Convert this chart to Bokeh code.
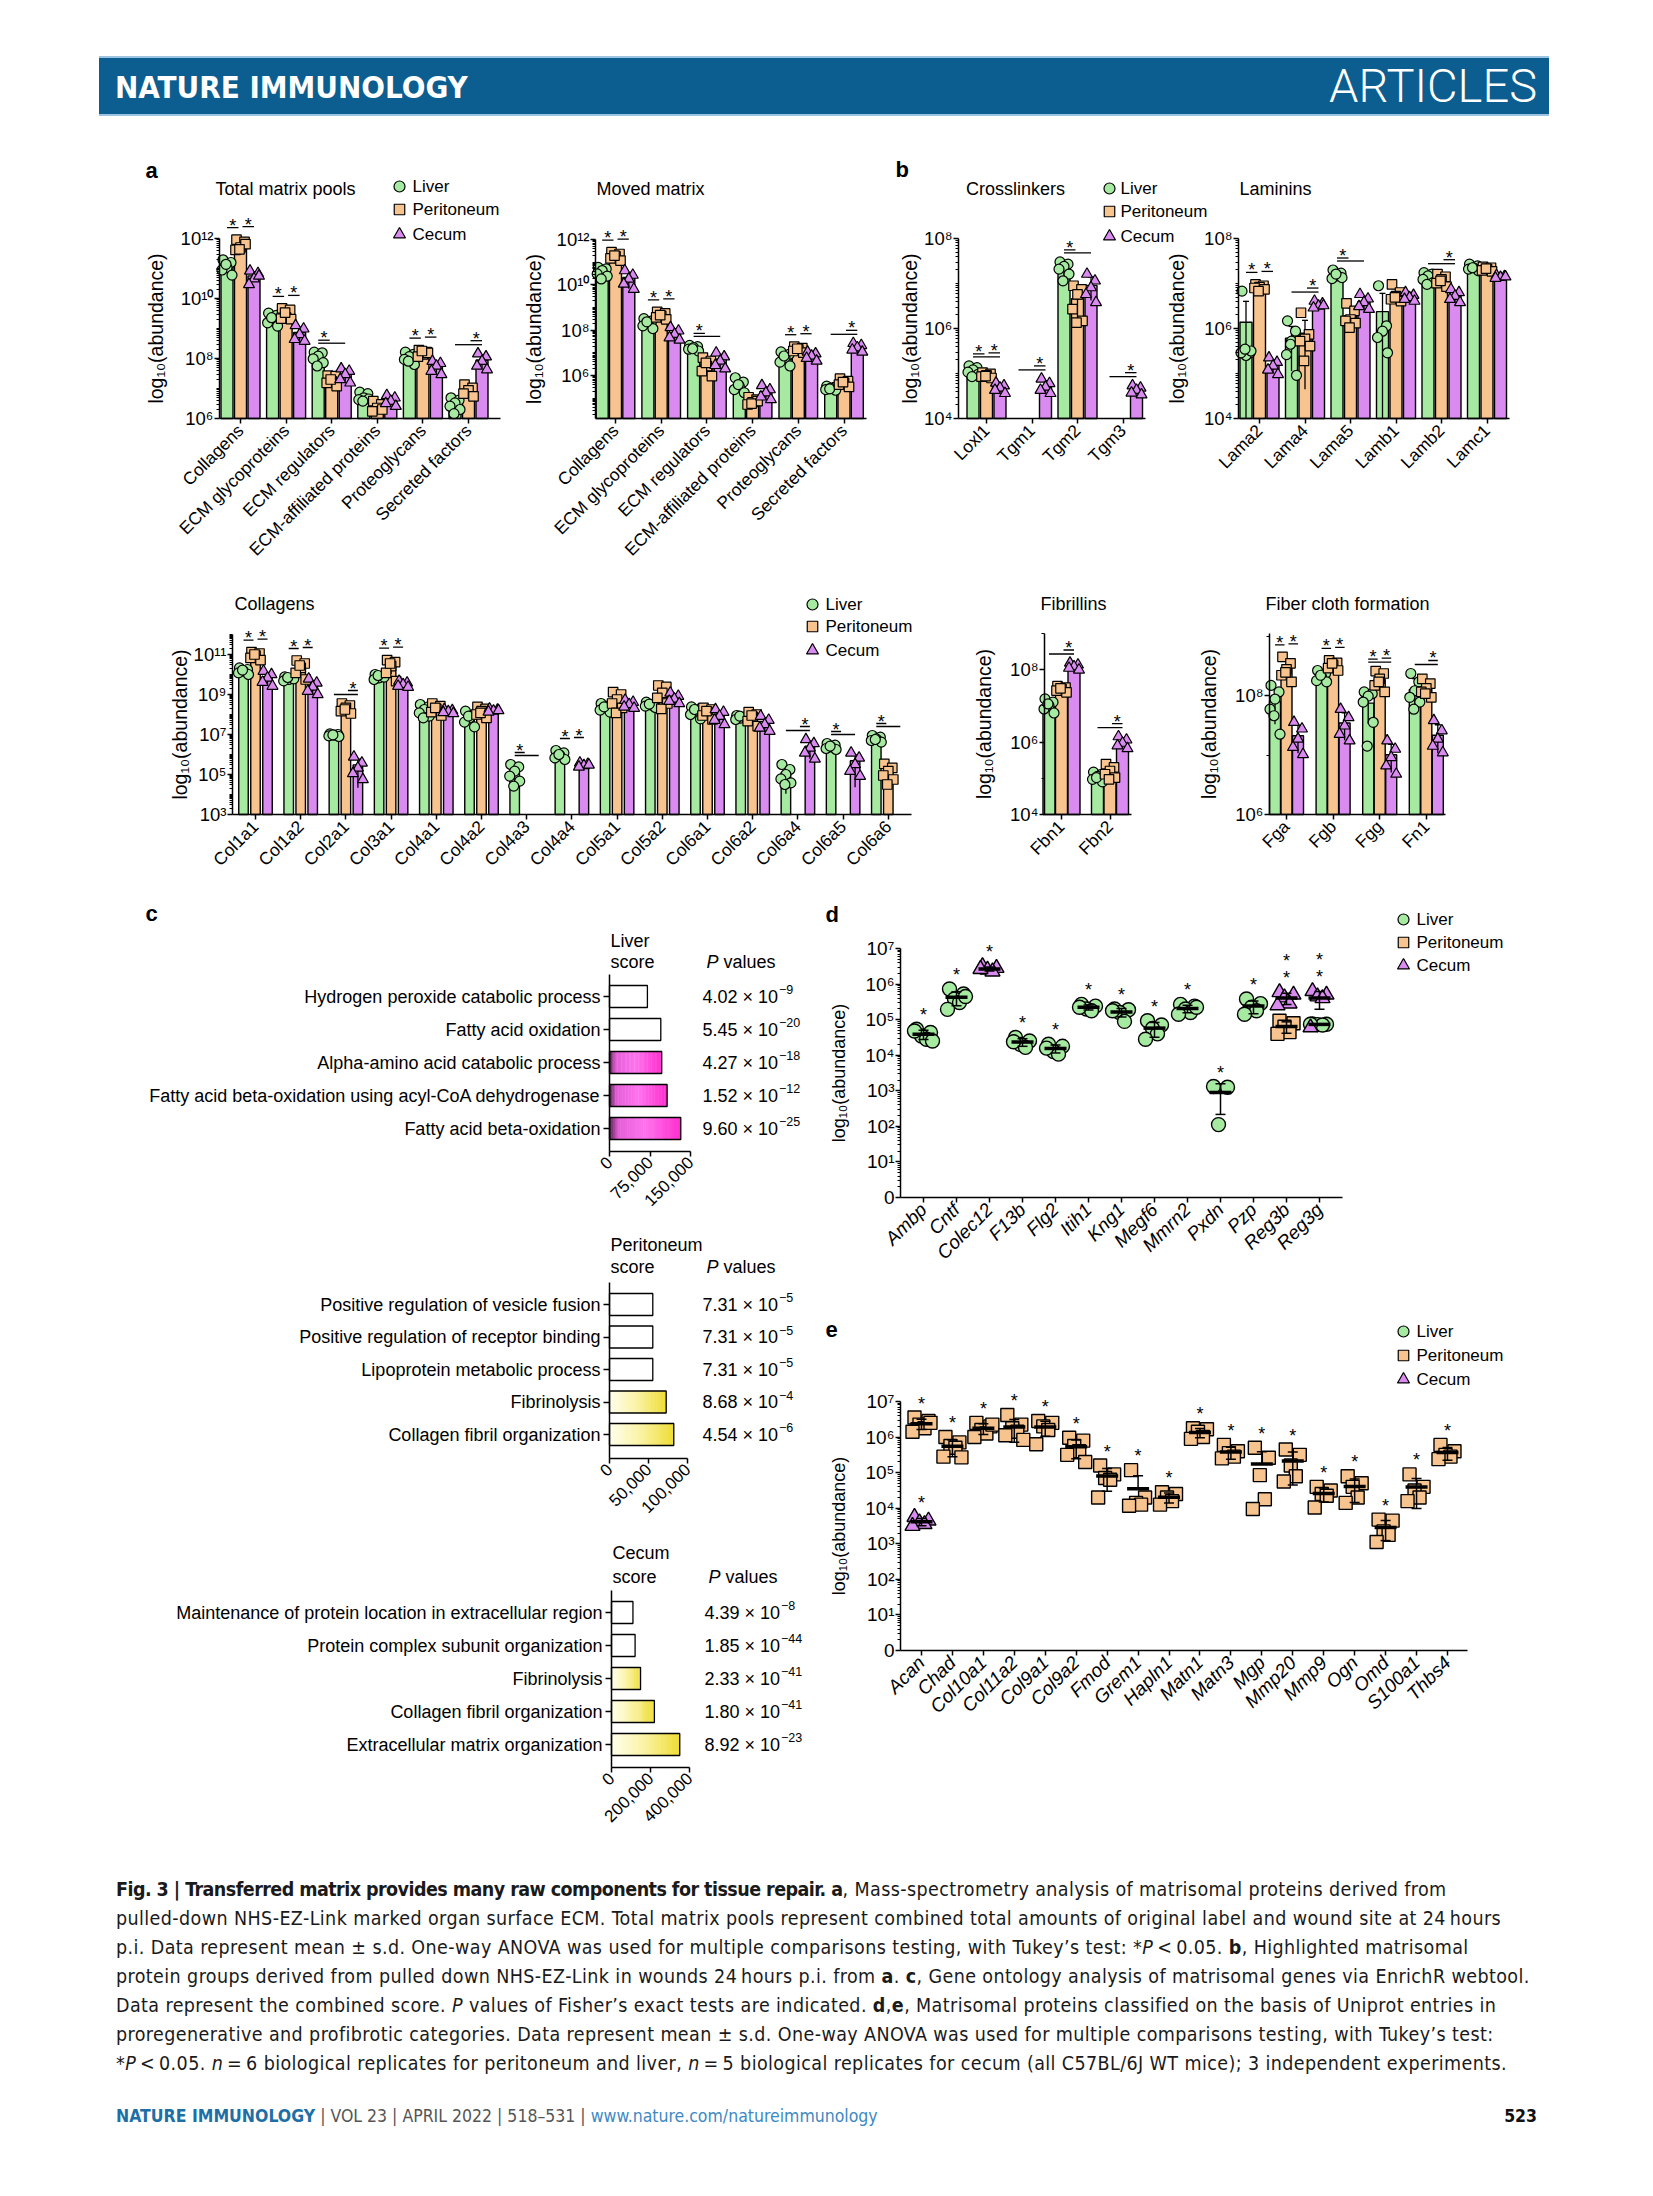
import math
from bokeh.plotting import figure
from bokeh.models import (Range1d, LogScale, LinearAxis, LogAxis, FixedTicker,
                          CustomJSTickFormatter, NumeralTickFormatter, Div, Spacer)
from bokeh.layouts import row, column
from bokeh.core.properties import value
from bokeh.embed import file_html
from bokeh.resources import INLINE

# ===================== DATA (log10 abundance of replicates) =====================
GROUPS = ["Liver", "Peritoneum", "Cecum"]

TOTAL_CATS = ["Collagens", "ECM glycoproteins", "ECM regulators",
              "ECM-affiliated proteins", "Proteoglycans", "Secreted factors"]
TOTAL_LIVER = [[11.29, 11.20, 11.03, 10.95, 10.78, 11.14], [9.51, 9.44, 9.33, 9.19, 9.08, 9.36],
               [8.21, 8.19, 8.08, 7.99, 7.86, 7.75], [6.88, 6.83, 6.69, 6.63, 6.65, 6.58],
               [8.21, 8.14, 8.06, 7.97, 7.80, 7.91], [6.69, 6.61, 6.52, 6.41, 6.30, 6.16]]
TOTAL_PERI = [[11.96, 11.89, 11.70, 11.62, 11.81, 11.64], [9.67, 9.62, 9.36, 9.33, 9.31, 9.53],
              [7.43, 7.41, 7.24, 7.19, 7.08, 7.30], [6.58, 6.47, 6.35, 6.24, 6.30],
              [8.28, 8.21, 8.14, 8.06, 8.19, 8.25], [7.13, 7.02, 6.94, 6.83, 6.74]]
TOTAL_CECUM = [[10.92, 10.84, 10.66, 10.47, 10.75], [9.10, 8.99, 8.80, 8.64, 8.58],
               [7.66, 7.58, 7.47, 7.30, 7.19], [6.77, 6.69, 6.58, 6.50, 6.41],
               [7.91, 7.84, 7.75, 7.58, 7.47], [8.16, 8.06, 7.91, 7.75, 7.63]]
TOTAL_SIG = [(0, "LP", 1), (0, "PC", 1), (1, "LP", 1), (1, "PC", 1), (2, "LP", 1), (2, "LC", 0),
             (4, "LP", 1), (4, "PC", 1), (5, "LC", 0), (5, "PC", 1)]

MOVED_LIVER = [[10.77, 10.70, 10.63, 10.48, 10.38, 10.26], [8.51, 8.41, 8.31, 8.19, 8.07, 8.37],
               [7.33, 7.27, 7.23, 7.16, 7.08, 7.18], [5.90, 5.71, 5.53, 5.38, 5.24, 5.60],
               [7.04, 6.93, 6.79, 6.59, 6.42, 6.86], [5.53, 5.49, 5.44, 5.38, 5.35, 5.41]]
MOVED_PERI = [[11.44, 11.36, 11.26, 11.17, 11.07, 11.29], [8.81, 8.74, 8.63, 8.56, 8.48, 8.66],
              [6.79, 6.64, 6.42, 6.19, 5.97, 6.56], [5.04, 4.94, 4.82, 4.72, 4.87, 4.76],
              [7.27, 7.21, 7.15, 7.08, 7.01, 7.18], [5.86, 5.75, 5.68, 5.60, 5.50, 5.71]]
MOVED_CECUM = [[10.63, 10.43, 10.26, 10.04, 9.81], [8.12, 7.97, 7.82, 7.67, 7.57],
               [7.00, 6.83, 6.64, 6.45, 6.30], [5.56, 5.38, 5.24, 5.06, 4.94],
               [7.04, 6.96, 6.86, 6.76, 6.64], [7.42, 7.33, 7.23, 7.13, 7.04]]
MOVED_SIG = [(0, "LP", 1), (0, "PC", 1), (1, "LP", 1), (1, "PC", 1), (2, "LP", 1), (2, "LC", 0),
             (4, "LP", 1), (4, "PC", 1), (5, "LC", 0), (5, "PC", 1)]

CROSS_CATS = ["Loxl1", "Tgm1", "Tgm2", "Tgm3"]
CROSS_LIVER = [[5.17, 5.13, 5.08, 5.03, 4.98, 4.93], [], [7.48, 7.43, 7.38, 7.32, 7.21, 7.06], []]
CROSS_PERI = [[5.02, 4.99, 4.96, 4.93, 4.90, 4.94], [], [6.95, 6.87, 6.76, 6.43, 6.17, 6.13], []]
CROSS_CECUM = [[4.79, 4.73, 4.68, 4.63, 4.56], [4.88, 4.78, 4.70, 4.63, 4.56],
               [7.21, 7.06, 6.91, 6.76, 6.58], [4.73, 4.68, 4.63, 4.57, 4.53]]
CROSS_SIG = [(0, "LP", 1), (0, "PC", 1), (0, "LC", 0), (1, "LC", 0), (1, "PC", 1),
             (2, "LP", 1), (2, "LC", 0), (3, "LC", 0), (3, "PC", 1)]

LAM_CATS = ["Lama2", "Lama4", "Lama5", "Lamb1", "Lamb2", "Lamc1"]
LAM_LIVER = [[6.83, 5.46, 5.40, 5.46, 5.50, 5.54], [6.17, 5.94, 5.72, 5.42, 4.96, 5.65],
             [7.30, 7.23, 7.17, 7.11, 7.13, 7.21], [6.95, 6.06, 5.94, 5.80, 5.46],
             [7.24, 7.21, 7.17, 7.09, 7.02, 6.98], [7.43, 7.39, 7.35, 7.32, 7.28, 7.35]]
LAM_PERI = [[6.98, 6.95, 6.92, 6.90, 6.87, 6.83], [6.35, 5.87, 5.77, 5.72, 5.61, 5.28],
            [6.56, 6.39, 6.20, 6.17, 6.12, 6.02], [6.98, 6.80, 6.72, 6.65, 6.61, 6.69],
            [7.21, 7.15, 7.09, 7.01, 6.93, 7.06], [7.37, 7.35, 7.32, 7.29, 7.27, 7.33]]
LAM_CECUM = [[5.35, 5.25, 5.17, 5.08, 4.98], [6.61, 6.55, 6.50, 6.46, 6.51],
             [6.76, 6.66, 6.58, 6.49, 6.43], [6.80, 6.74, 6.69, 6.65, 6.61],
             [6.87, 6.80, 6.72, 6.65, 6.58], [7.18, 7.16, 7.14, 7.12, 7.15]]
LAM_SIG = [(0, "LP", 1), (0, "PC", 1), (1, "LC", 0), (1, "PC", 1), (2, "LP", 1), (2, "LC", 0),
           (4, "LC", 0), (4, "PC", 1)]

COLL_CATS = ["Col1a1", "Col1a2", "Col2a1", "Col3a1", "Col4a1", "Col4a2", "Col4a3", "Col4a4",
             "Col5a1", "Col5a2", "Col6a1", "Col6a2", "Col6a4", "Col6a5", "Col6a6"]
COLL_LIVER = [[10.33, 10.25, 10.17, 10.08, 10.00, 10.22], [9.88, 9.82, 9.75, 9.68, 9.78, 9.85],
              [7.03, 7.00, 6.97, 6.93, 6.90, 6.98], [10.00, 9.92, 9.83, 9.75, 9.87, 9.95],
              [8.50, 8.38, 8.25, 8.08, 7.92, 7.83], [8.17, 8.00, 7.83, 7.62, 7.38, 7.92],
              [5.50, 5.38, 5.17, 4.92, 4.67, 4.42], [6.20, 6.08, 5.95, 5.83, 5.75, 6.00],
              [8.55, 8.45, 8.33, 8.22, 8.12, 8.38], [8.62, 8.55, 8.48, 8.42, 8.35, 8.52],
              [8.38, 8.28, 8.17, 8.00, 7.78, 8.25], [7.95, 7.88, 7.82, 7.75, 7.85, 7.92],
              [5.50, 5.25, 5.00, 4.78, 4.58, 4.50], [6.55, 6.47, 6.38, 6.30, 6.25, 6.42],
              [6.95, 6.87, 6.78, 6.70, 6.62, 6.75]]
COLL_PERI = [[11.12, 11.05, 10.95, 10.83, 10.72, 11.00], [10.70, 10.55, 10.33, 10.08, 9.75, 10.45],
             [8.55, 8.45, 8.33, 8.17, 8.05, 8.25], [10.72, 10.62, 10.42, 10.08, 9.67, 10.55],
             [8.55, 8.42, 8.28, 8.12, 7.95, 8.33], [8.38, 8.28, 8.17, 8.00, 7.83, 8.08],
             [], [],
             [9.12, 9.00, 8.75, 8.55, 8.33, 8.08], [9.45, 9.38, 9.08, 8.83, 8.55, 8.28],
             [8.33, 8.25, 8.12, 7.95, 7.75, 8.17], [8.12, 8.00, 7.88, 7.67, 7.42, 7.95],
             [], [],
             [5.53, 5.33, 5.17, 4.95, 4.75, 4.50]]
COLL_CECUM = [[10.17, 10.00, 9.83, 9.62, 9.42], [9.78, 9.58, 9.38, 9.17, 9.00],
              [5.88, 5.58, 5.33, 5.05, 4.75], [9.67, 9.58, 9.50, 9.42, 9.37],
              [8.25, 8.20, 8.15, 8.10, 8.05], [8.28, 8.23, 8.18, 8.13, 8.20],
              [], [5.58, 5.52, 5.45, 5.38, 5.48],
              [8.72, 8.62, 8.50, 8.38, 8.32], [9.08, 8.92, 8.78, 8.67, 8.55],
              [8.25, 8.12, 7.92, 7.72, 7.50], [7.92, 7.72, 7.50, 7.33, 7.17],
              [6.75, 6.55, 6.33, 6.08, 5.78], [6.08, 5.83, 5.50, 5.17, 4.92],
              []]
COLL_SIG = [(0, "LP", 1), (0, "PC", 1), (1, "LP", 1), (1, "PC", 1), (2, "LC", 0), (2, "PC", 1),
            (3, "LP", 1), (3, "PC", 1), (6, "LP", 1), (6, "LC", 0), (7, "LP", 1), (7, "PC", 1),
            (12, "LC", 0), (12, "PC", 1), (13, "LP", 1), (13, "LC", 0), (14, "LP", 1), (14, "LC", 0)]

FIB_CATS = ["Fbn1", "Fbn2"]
FIB_LIVER = [[7.19, 7.10, 7.00, 6.91, 6.80, 7.05], [5.17, 5.11, 5.05, 4.97, 4.90, 5.02]]
FIB_PERI = [[7.54, 7.50, 7.46, 7.42, 7.37, 7.48], [5.39, 5.30, 5.20, 5.11, 5.02, 4.97]]
FIB_CECUM = [[8.18, 8.13, 8.08, 8.04, 7.99], [6.15, 6.06, 5.97, 5.90, 5.82]]
FIB_SIG = [(0, "LC", 0), (0, "PC", 1), (1, "LC", 0), (1, "PC", 1)]

FIBER_CATS = ["Fga", "Fgb", "Fgg", "Fn1"]
FIBER_LIVER = [[8.17, 8.06, 7.94, 7.77, 7.35, 7.66], [8.42, 8.37, 8.31, 8.25, 8.23, 8.34],
               [8.06, 8.03, 7.99, 7.89, 7.55, 7.15], [8.37, 8.23, 8.08, 7.97, 7.89, 7.77]]
FIBER_PERI = [[8.65, 8.54, 8.44, 8.34, 8.23, 8.39], [8.59, 8.55, 8.51, 8.46, 8.42, 8.54],
              [8.41, 8.37, 8.28, 8.17, 8.06, 8.23], [8.28, 8.20, 8.12, 8.06, 7.97, 8.03]]
FIBER_CECUM = [[7.55, 7.44, 7.27, 7.13, 7.01], [7.77, 7.63, 7.49, 7.35, 7.24],
               [7.24, 7.10, 6.96, 6.82, 6.68], [7.58, 7.41, 7.27, 7.15, 7.04]]
FIBER_SIG = [(0, "LP", 1), (0, "PC", 1), (1, "LP", 1), (1, "PC", 1), (2, "LP", 1), (2, "PC", 1),
             (2, "LC", 0), (3, "LC", 0), (3, "PC", 1)]

LIVER_TERMS = ["Hydrogen peroxide catabolic process", "Fatty acid oxidation",
               "Alpha-amino acid catabolic process",
               "Fatty acid beta-oxidation using acyl-CoA dehydrogenase", "Fatty acid beta-oxidation"]
LIVER_SCORES = [70200, 95000, 96700, 106700, 132000]
LIVER_PVALS = [(4.02, -9), (5.45, -20), (4.27, -18), (1.52, -12), (9.60, -25)]
PERI_TERMS = ["Positive regulation of vesicle fusion", "Positive regulation of receptor binding",
              "Lipoprotein metabolic process", "Fibrinolysis", "Collagen fibril organization"]
PERI_SCORES = [55500, 55500, 55500, 72700, 82400]
PERI_PVALS = [(7.31, -5), (7.31, -5), (7.31, -5), (8.68, -4), (4.54, -6)]
CECUM_TERMS = ["Maintenance of protein location in extracellular region",
               "Protein complex subunit organization", "Fibrinolysis",
               "Collagen fibril organization", "Extracellular matrix organization"]
CECUM_SCORES = [110000, 121000, 149000, 220000, 350000]
CECUM_PVALS = [(4.39, -8), (1.85, -44), (2.33, -41), (1.80, -41), (8.92, -23)]

D_CATS = ["Ambp", "Cntf", "Colec12", "F13b", "Flg2", "Itih1", "Kng1", "Megf6", "Mmrn2",
          "Pxdn", "Pzp", "Reg3b", "Reg3g"]
D_LIVER = [[4.73, 4.64, 4.54, 4.45, 4.68, 4.40], [5.86, 5.72, 5.58, 5.48, 5.29, 5.65], [],
           [4.50, 4.40, 4.30, 4.22, 4.38], [4.31, 4.25, 4.10, 4.03, 4.20],
           [5.43, 5.38, 5.30, 5.25, 5.35], [5.30, 5.28, 5.20, 4.95, 5.25],
           [4.97, 4.85, 4.75, 4.60, 4.45], [5.43, 5.38, 5.30, 5.20, 5.15, 5.35],
           [3.12, 3.10, 2.05], [5.58, 5.45, 5.35, 5.25, 5.15], [],
           [4.88, 4.87, 4.86, 4.85, 4.87]]
D_PERI = [[], [], [], [], [], [], [], [], [], [], [], [4.97, 4.90, 4.80, 4.65, 4.60], []]
D_CECUM = [[], [], [6.50, 6.45, 6.40, 6.35, 6.42], [], [], [], [], [], [], [], [],
           [5.77, 5.70, 5.62, 5.45, 5.40], [5.80, 5.70, 5.65, 5.60, 4.78]]

E_CATS = ["Acan", "Chad", "Col10a1", "Col11a2", "Col9a1", "Col9a2", "Fmod", "Grem1", "Hapln1",
          "Matn1", "Matn3", "Mgp", "Mmp20", "Mmp9", "Ogn", "Omd", "S100a1", "Thbs4"]
E_LIVER = [[], [], [], [], [], [], [], [], [], [], [], [], [], [], [], [], [], []]
E_PERI = [[6.55, 6.45, 6.35, 6.25, 6.15, 6.40], [6.00, 5.85, 5.75, 5.70, 5.45, 5.43],
          [6.40, 6.30, 6.20, 6.10, 6.00, 6.35], [6.62, 6.35, 6.25, 6.15, 6.05, 5.92],
          [6.45, 6.40, 6.30, 6.20, 5.80], [5.98, 5.90, 5.75, 5.60, 5.50, 5.30],
          [5.20, 4.95, 4.85, 4.80, 4.30], [5.07, 4.30, 4.15, 4.10, 4.07],
          [4.45, 4.40, 4.30, 4.20, 4.10], [6.25, 6.22, 6.15, 6.00, 5.95],
          [5.78, 5.60, 5.55, 5.45, 5.40], [5.70, 5.42, 4.93, 4.25, 3.98],
          [5.65, 5.50, 5.20, 4.90, 4.75], [4.60, 4.50, 4.40, 4.35, 4.02],
          [4.90, 4.70, 4.60, 4.30, 4.15], [3.68, 3.65, 3.35, 3.25, 3.05],
          [4.95, 4.60, 4.50, 4.30, 4.20], [5.78, 5.60, 5.50, 5.45, 5.38]]
E_CECUM = [[3.75, 3.65, 3.60, 3.55, 3.50], [], [], [], [], [], [], [], [], [], [], [], [], [],
           [], [], [], []]

# ===================== STYLE =====================
FONT = "Liberation Sans"
COLORS = ["#a6eaa2", "#f7c38f", "#d98bef"]
MARKERS = ["circle", "square", "triangle"]
BAR_JITTER_PX = [-4, 4, 0, -5, 5, -1]
DOT_JITTER_PX = [-7, 7, -2, 3, -9, 9]
MAGENTA = [(0.0, (80, 35, 75)), (0.12, (228, 95, 215)), (0.5, (255, 115, 238)), (1.0, (255, 45, 205))]
YELLOW = [(0.0, (255, 255, 238)), (0.5, (250, 242, 160)), (1.0, (238, 220, 50))]

SUP_JS = """
const s = {"0":"\u2070","1":"\u00b9","2":"\u00b2","3":"\u00b3","4":"\u2074","5":"\u2075",
           "6":"\u2076","7":"\u2077","8":"\u2078","9":"\u2079","-":"\u207b"};
const e = Math.round(Math.log10(tick));
if (zero && e === 0) { return "0"; }
let out = "";
for (const c of String(e)) { out += s[c]; }
return "10" + out;
"""
CAT_JS = "const i = Math.round(tick) - start; return (i >= 0 && i < labels.length) ? labels[i] : '';"


class Panel:
    """A figure whose frame is the whole canvas; page-pixel anchors define the scales."""

    def __init__(self, box, xa, xb, ya, yb, ylog=True):
        self.l, self.t, self.r, self.b = box
        self.xa, self.ya = xa, ya
        self.kx = (xb[1] - xa[1]) / (xb[0] - xa[0])
        self.ky = (yb[1] - ya[1]) / (yb[0] - ya[0])
        self.ylog = ylog
        p = figure(width=self.r - self.l, height=self.b - self.t,
                   x_range=Range1d(self.X(self.l), self.X(self.r)),
                   y_range=Range1d(self.Y(self.b), self.Y(self.t)),
                   x_axis_type=None, y_axis_type=None, title=None,
                   toolbar_location=None, output_backend="svg")
        if ylog:
            p.y_scale = LogScale()
        p.min_border = 0
        p.min_border_left = 0
        p.min_border_right = 0
        p.min_border_top = 0
        p.min_border_bottom = 0
        p.outline_line_color = None
        p.background_fill_color = "white"
        p.border_fill_color = "white"
        self.p = p

    def X(self, px):
        return self.xa[1] + (px - self.xa[0]) * self.kx

    def L(self, px):
        return self.ya[1] + (px - self.ya[0]) * self.ky

    def Y(self, px):
        v = self.L(px)
        return 10.0 ** v if self.ylog else v

    def dx(self, dpx):
        return dpx * self.kx

    def up(self, dpx):
        return -dpx * self.ky


def style_axis(ax, size="16px", label_size="19.5px"):
    ax.axis_line_color = "black"
    ax.axis_line_width = 1.5
    ax.major_tick_line_color = "black"
    ax.major_tick_line_width = 1.5
    ax.minor_tick_line_color = "black"
    ax.minor_tick_line_width = 1
    ax.major_tick_in = 0
    ax.major_tick_out = 5
    ax.minor_tick_in = 0
    ax.minor_tick_out = 3
    ax.major_label_standoff = 3
    ax.major_label_text_font = FONT
    ax.major_label_text_font_size = size
    ax.major_label_text_color = "black"
    ax.axis_label_text_font = FONT
    ax.axis_label_text_font_size = label_size
    ax.axis_label_text_font_style = "normal"
    ax.axis_label_text_color = "black"


def log_yaxis(P, x_px, lo, hi, majors, standoff, zero=False, minors=None,
              size="18.5px", label_size="19.5px"):
    if minors is None:
        minors = []
        for e in range(math.floor(lo), math.ceil(hi) + 1):
            for k in range(1, 10):
                v = k * 10.0 ** e
                lv = math.log10(v)
                if lo - 1e-9 <= lv <= hi + 1e-9 and all(abs(lv - m) > 1e-9 for m in majors):
                    minors.append(v)
    ax = LogAxis(ticker=FixedTicker(ticks=[10.0 ** m for m in majors], minor_ticks=minors),
                 formatter=CustomJSTickFormatter(args=dict(zero=zero), code=SUP_JS),
                 bounds=(10.0 ** lo, 10.0 ** hi), fixed_location=P.X(x_px))
    style_axis(ax, size, label_size)
    ax.major_label_standoff = 1
    ax.axis_label = "log₁₀(abundance)"
    ax.axis_label_standoff = standoff
    P.p.add_layout(ax, "left")


def cat_axis(P, y_px, names, start, x0_px, x1_px, italic=False, size="17.5px"):
    ax = LinearAxis(ticker=FixedTicker(ticks=[start + i for i in range(len(names))], minor_ticks=[]),
                    formatter=CustomJSTickFormatter(args=dict(labels=names, start=start), code=CAT_JS),
                    bounds=(P.X(x0_px), P.X(x1_px)), fixed_location=P.Y(y_px))
    style_axis(ax, size)
    ax.major_label_orientation = math.pi / 4
    ax.major_label_standoff = 4
    ax.major_label_text_font_style = "italic" if italic else "normal"
    P.p.add_layout(ax, "below")


def txt(P, x_px, y_px, s, size="16px", align="left", baseline="middle", style="normal"):
    P.p.text(x=[P.X(x_px)], y=[P.Y(y_px)], text=[s], text_font=value(FONT),
             text_font_size=size, text_align=align, text_baseline=baseline,
             text_font_style=style, text_color="black")


def legend(P, x_px, ys_px, tx_px, sizes=(11, 10.5, 12), size="17px"):
    for g in range(3):
        P.p.scatter([P.X(x_px)], [P.Y(ys_px[g])], marker=MARKERS[g], size=sizes[g],
                    fill_color=COLORS[g], line_color="black", line_width=1.2)
        txt(P, tx_px, ys_px[g], GROUPS[g], size=size)


def stats(vals):
    lin = [10.0 ** v for v in vals]
    n = len(lin)
    m = sum(lin) / n
    sd = math.sqrt(sum((x - m) ** 2 for x in lin) / (n - 1)) if n > 1 else 0.0
    return m, sd


def bar_panel(P, groups, sig, base_log, bar_w_px, off_px, cat0=0, msizes=(10, 9.5, 11)):
    p = P.p
    bw = P.dx(bar_w_px)
    offs = [-P.dx(off_px), 0.0, P.dx(off_px)]
    jit = [P.dx(j) for j in BAR_JITTER_PX]
    bottom = 10.0 ** base_log
    pts = []
    for g in range(3):
        xs, tops, ex, ey0, ey1, cx0, cx1, cy = [], [], [], [], [], [], [], []
        gx, gy = [], []
        for i, vals in enumerate(groups[g]):
            if not vals:
                continue
            xc = cat0 + i + offs[g]
            m, sd = stats(vals)
            xs.append(xc)
            tops.append(m)
            ex.append(xc)
            ey0.append(max(m - sd, bottom))
            ey1.append(m + sd)
            cx0.append(xc - P.dx(3))
            cx1.append(xc + P.dx(3))
            cy.append(m + sd)
            for k, v in enumerate(vals):
                gx.append(xc + jit[k % len(jit)])
                gy.append(10.0 ** v)
        p.vbar(x=xs, top=tops, bottom=bottom, width=bw, fill_color=COLORS[g],
               line_color="black", line_width=1.4)
        p.segment(x0=ex, y0=ey0, x1=ex, y1=ey1, line_color="black", line_width=1.3)
        p.segment(x0=cx0, y0=cy, x1=cx1, y1=cy, line_color="black", line_width=1.3)
        pts.append((g, gx, gy))
    for g, gx, gy in pts:
        p.scatter(gx, gy, marker=MARKERS[g], size=msizes[g], fill_color=COLORS[g],
                  line_color="black", line_width=1.2)
    lx0, lx1, ly, sx, sy = [], [], [], [], []
    pair = {"LP": (0, 1), "PC": (1, 2), "LC": (0, 2)}
    lift = {"LP": 3, "PC": 4, "LC": 0}
    for i, kind, star in sig:
        allv = [v for g in range(3) for v in groups[g][i]]
        yl = max(allv) + P.up(9) + P.up(lift[kind])
        ga, gb = pair[kind]
        xa = cat0 + i + offs[ga]
        xb = cat0 + i + offs[gb]
        if kind == "LP":
            xb -= P.dx(2)
        if kind == "PC":
            xa += P.dx(2)
        lx0.append(xa)
        lx1.append(xb)
        ly.append(10.0 ** yl)
        if star:
            sx.append((xa + xb) / 2)
            sy.append(10.0 ** (yl + P.up(2)))
    p.segment(x0=lx0, y0=ly, x1=lx1, y1=ly, line_color="black", line_width=1.3)
    p.text(x=sx, y=sy, text=["*"] * len(sx), text_font=value(FONT), text_font_size="18px",
           text_align="center", text_baseline="alphabetic", text_color="black")


def dot_panel(P, groups, msizes=(14, 13, 15)):
    p = P.p
    jit = [P.dx(j) for j in DOT_JITTER_PX]
    ncat = len(groups[0])
    for g in range(3):
        gx, gy = [], []
        for i, vals in enumerate(groups[g]):
            for k, v in enumerate(vals):
                gx.append(i + jit[k % len(jit)])
                gy.append(10.0 ** v)
        if gx:
            p.scatter(gx, gy, marker=MARKERS[g], size=msizes[g], fill_color=COLORS[g],
                      line_color="black", line_width=1.4)
    mx0, mx1, my, ex, ey0, ey1, cx0, cx1, cy = [], [], [], [], [], [], [], [], []
    for g in range(3):
        for i, vals in enumerate(groups[g]):
            if not vals:
                continue
            m, sd = stats(vals)
            mx0.append(i - P.dx(11))
            mx1.append(i + P.dx(11))
            my.append(m)
            hi = m + sd
            lo = m - sd if m - sd > 0 else m
            ex.append(i)
            ey0.append(lo)
            ey1.append(hi)
            for yy in ([hi, lo] if lo < m else [hi]):
                cx0.append(i - P.dx(5))
                cx1.append(i + P.dx(5))
                cy.append(yy)
    p.segment(x0=ex, y0=ey0, x1=ex, y1=ey1, line_color="black", line_width=1.5)
    p.segment(x0=cx0, y0=cy, x1=cx1, y1=cy, line_color="black", line_width=1.5)
    p.segment(x0=mx0, y0=my, x1=mx1, y1=my, line_color="black", line_width=3.5)
    sx, sy = [], []
    for i in range(ncat):
        present = sorted([(max(groups[g][i]), min(groups[g][i])) for g in range(3) if groups[g][i]],
                         reverse=True)
        top_level, higher_min = None, None
        for gmax, gmin in present:
            lvl = gmax + P.up(14)
            if higher_min is not None and lvl > higher_min - P.up(8):
                lvl = top_level + P.up(17)
            sx.append(i)
            sy.append(10.0 ** lvl)
            top_level = lvl if top_level is None else max(top_level, lvl)
            higher_min = gmin if higher_min is None else min(higher_min, gmin)
    p.text(x=sx, y=sy, text=["*"] * len(sx), text_font=value(FONT), text_font_size="18px",
           text_align="center", text_baseline="middle", text_color="black")


def grad_color(stops, t):
    for (t0, c0), (t1, c1) in zip(stops, stops[1:]):
        if t <= t1:
            f = (t - t0) / (t1 - t0)
            return "#%02x%02x%02x" % tuple(int(round(a + (b - a) * f)) for a, b in zip(c0, c1))
    return "#%02x%02x%02x" % stops[-1][1]


def go_panel(box, xa, xb, row0, row4, xaxis_px, ytop_px, terms, scores, pvals, hilite, grad,
             ticks, header, hdr_px, bar_px=22):
    P = Panel(box, xa, xb, (row0, 0), (row4, 4), ylog=False)
    p = P.p
    ax_px = xa[0]
    hh = bar_px * P.ky
    n = 40
    for i, (sc, hl) in enumerate(zip(scores, hilite)):
        if hl:
            lefts = [sc * k / n for k in range(n)]
            rights = [min(sc, sc * (k + 1.3) / n) for k in range(n)]
            cols = [grad_color(grad, (k + 0.5) / n) for k in range(n)]
            p.hbar(y=[i] * n, left=lefts, right=rights, height=hh, fill_color=cols, line_color=None)
    wy = [i for i, hl in enumerate(hilite) if not hl]
    p.hbar(y=wy, left=0, right=[scores[i] for i in wy], height=hh, fill_color="white", line_color=None)
    p.hbar(y=list(range(len(scores))), left=0, right=scores, height=hh, fill_color=None,
           line_color="black", line_width=1.3)
    yax = LinearAxis(ticker=FixedTicker(ticks=list(range(len(terms))), minor_ticks=[]),
                     formatter=CustomJSTickFormatter(args=dict(labels=terms, start=0), code=CAT_JS),
                     bounds=(P.Y(ytop_px), P.Y(xaxis_px)), fixed_location=0)
    style_axis(yax, "18px")
    yax.major_tick_out = 6
    p.add_layout(yax, "left")
    xax = LinearAxis(ticker=FixedTicker(ticks=ticks, minor_ticks=[]),
                     formatter=NumeralTickFormatter(format="0,0"),
                     bounds=(0, ticks[-1]), fixed_location=P.Y(xaxis_px))
    style_axis(xax, "17px")
    xax.major_label_orientation = math.pi / 4
    p.add_layout(xax, "below")
    rows = list(range(len(pvals)))
    # mantissa "d.dd × 10" (Liberation Sans: 4.198 em wide) followed by a raised exponent
    p.text(x=[P.X(ax_px + 93)] * len(pvals), y=rows,
           text=["%.2f × 10" % m for m, e in pvals],
           text_font=value(FONT), text_font_size="18px", text_align="left",
           text_baseline="middle", text_color="black")
    p.text(x=[P.X(ax_px + 93 + 4.198 * 18 + 1)] * len(pvals), y=[r + P.up(7) for r in rows],
           text=[str(e).replace("-", "\u2212") for m, e in pvals],
           text_font=value(FONT), text_font_size="12.5px", text_align="left",
           text_baseline="middle", text_color="black")
    txt(P, ax_px + 1, hdr_px[0], header, size="18px")
    txt(P, ax_px + 1, hdr_px[1], "score", size="18px")
    txt(P, ax_px + 97, hdr_px[1], "P", size="18px", style="italic")
    txt(P, ax_px + 114, hdr_px[1], "values", size="18px")
    return P


# ===================== PANEL a =====================
A1 = Panel((140, 150, 520, 565), (248, 0), (293.6, 1), (236, 12), (416, 6))
log_yaxis(A1, 227, 6, 12, [6, 8, 10, 12], 11)
cat_axis(A1, 416, TOTAL_CATS, 0, 227, 508)
bar_panel(A1, [TOTAL_LIVER, TOTAL_PERI, TOTAL_CECUM], TOTAL_SIG, 6, 12, 13.5)
txt(A1, 293, 186, "Total matrix pools", size="18px", align="center")
legend(A1, 407, [184, 207, 232], 420)
txt(A1, 153, 168, "a", size="22px", style="bold")

A2 = Panel((520, 150, 885, 565), (623, 0), (668.7, 1), (237, 12), (373, 6))
lo2 = A2.L(416)
log_yaxis(A2, 603, lo2, 12, [6, 8, 10, 12], 9)
cat_axis(A2, 416, TOTAL_CATS, 0, 603, 874)
bar_panel(A2, [MOVED_LIVER, MOVED_PERI, MOVED_CECUM], MOVED_SIG, lo2, 12, 13.3)
txt(A2, 658, 186, "Moved matrix", size="18px", align="center")

# ===================== PANEL b =====================
B = Panel((885, 150, 1560, 565), (994, 0), (1039.5, 1), (236, 8), (416, 4))
log_yaxis(B, 966, 4, 8, [4, 6, 8], 0)
log_yaxis(B, 1246, 4, 8, [4, 6, 8], 13)
cat_axis(B, 416, CROSS_CATS, 0, 966, 1153)
cat_axis(B, 416, LAM_CATS, 6, 1246, 1517)
bar_panel(B, [CROSS_LIVER, CROSS_PERI, CROSS_CECUM], CROSS_SIG, 4, 12, 13.5, cat0=0)
bar_panel(B, [LAM_LIVER, LAM_PERI, LAM_CECUM], LAM_SIG, 4, 12, 13.5, cat0=6)
txt(B, 1023, 186, "Crosslinkers", size="18px", align="center")
txt(B, 1283, 186, "Laminins", size="18px", align="center")
legend(B, 1117, [186, 209, 234], 1128)
txt(B, 903, 167, "b", size="22px", style="bold")

# ===================== collagens / fibrillins / fiber =====================
CO = Panel((140, 580, 960, 880), (263, 0), (308.2, 1), (652, 11), (812, 3))
log_yaxis(CO, 240, 3, 12, [3, 5, 7, 9, 11], 0)
cat_axis(CO, 812, COLL_CATS, 0, 240, 919)
bar_panel(CO, [COLL_LIVER, COLL_PERI, COLL_CECUM], COLL_SIG, 3, 9.5, 12)
txt(CO, 282, 601, "Collagens", size="18px", align="center")
legend(CO, 820, [602, 624, 648], 833)

FB = Panel((960, 580, 1185, 880), (1069, 0), (1117.5, 1), (667, 8), (812, 4))
log_yaxis(FB, 1052, 4, 9, [4, 6, 8], 12, minors=[1e5, 1e7, 1e9])
cat_axis(FB, 812, FIB_CATS, 0, 1052, 1139)
bar_panel(FB, [FIB_LIVER, FIB_PERI, FIB_CECUM], FIB_SIG, 4, 12, 12.5)
txt(FB, 1081, 601, "Fibrillins", size="18px", align="center")

FI = Panel((1185, 580, 1500, 880), (1294, 0), (1340.6, 1), (693, 8), (812, 6))
log_yaxis(FI, 1277, 6, 9.04, [6, 8], 12, minors=[1e7, 1e9])
cat_axis(FI, 812, FIBER_CATS, 0, 1277, 1453)
bar_panel(FI, [FIBER_LIVER, FIBER_PERI, FIBER_CECUM], FIBER_SIG, 6, 11, 11.5)
txt(FI, 1355, 601, "Fiber cloth formation", size="18px", align="center")

# ===================== PANEL c =====================
C1 = go_panel((140, 900, 820, 1230), (617, 0), (698, 150000), 994, 1126, 1149, 972,
              LIVER_TERMS, LIVER_SCORES, LIVER_PVALS, [0, 0, 1, 1, 1], MAGENTA,
              [0, 75000, 150000], "Liver", (938, 959))
txt(C1, 153, 911, "c", size="22px", style="bold")
C2 = go_panel((140, 1230, 820, 1535), (617, 0), (695, 100000), 1302, 1432, 1456, 1280,
              PERI_TERMS, PERI_SCORES, PERI_PVALS, [0, 0, 0, 1, 1], YELLOW,
              [0, 50000, 100000], "Peritoneum", (1242, 1264))
C3 = go_panel((140, 1535, 820, 1845), (619, 0), (697, 400000), 1610, 1742, 1765, 1588,
              CECUM_TERMS, CECUM_SCORES, CECUM_PVALS, [0, 0, 1, 1, 1], YELLOW,
              [0, 200000, 400000], "Cecum", (1550, 1574))

# ===================== PANELS d, e =====================
D = Panel((820, 900, 1560, 1290), (931, 0), (964, 1), (946, 7), (1195, 0))
log_yaxis(D, 908, 0, 7, list(range(8)), 13, zero=True, size="19px", label_size="18px")
cat_axis(D, 1195, D_CATS, 0, 908, 1350, italic=True, size="19px")
dot_panel(D, [D_LIVER, D_PERI, D_CECUM])
legend(D, 1411, [917, 940, 963], 1424)
txt(D, 833, 912, "d", size="22px", style="bold")

E = Panel((820, 1290, 1560, 1730), (929, 0), (959.94, 1), (1399, 7), (1648, 0))
log_yaxis(E, 908, 0, 7, list(range(8)), 13, zero=True, size="19px", label_size="18px")
cat_axis(E, 1648, E_CATS, 0, 908, 1475, italic=True, size="19px")
dot_panel(E, [E_LIVER, E_PERI, E_CECUM])
legend(E, 1411, [1329, 1353, 1377], 1424)
txt(E, 833, 1327, "e", size="22px", style="bold")

# ===================== header, caption, footer =====================
COND = "'DejaVu Sans Condensed','Liberation Sans Narrow','DejaVu Sans',sans-serif"
header = Div(width=1450, height=60, text=(
    '<div style="position:relative;width:1450px;height:60px;background:#0b5e8f;'
    'border-top:2px solid #9cc3df;border-bottom:2px solid #9cc3df;box-sizing:border-box;overflow:hidden;">'
    '<span style="position:absolute;left:16px;top:14px;font-family:%s;font-stretch:condensed;'
    'font-weight:bold;font-size:31px;line-height:1;color:#ffffff;">NATURE IMMUNOLOGY</span>'
    '<span style="position:absolute;right:12px;top:4px;font-family:Roboto,\'Open Sans\',sans-serif;'
    'font-weight:300;font-size:47px;line-height:1;color:#ffffff;">ARTICLES</span></div>') % COND)

CAPTION_LINES = [
    "<b style=\"letter-spacing:-0.55px;\">Fig. 3 | Transferred matrix provides many raw components "
    "for tissue repair. a</b>, Mass-spectrometry analysis of matrisomal proteins derived from",
    "pulled-down NHS-EZ-Link marked organ surface ECM. Total matrix pools represent combined total "
    "amounts of original label and wound site at 24&#8201;hours",
    "p.i. Data represent mean ± s.d. One-way ANOVA was used for multiple comparisons testing, with "
    "Tukey’s test: *<i>P</i>&#8201;&lt;&#8201;0.05. <b>b</b>, Highlighted matrisomal",
    "protein groups derived from pulled down NHS-EZ-Link in wounds 24&#8201;hours p.i. from <b>a</b>. "
    "<b>c</b>, Gene ontology analysis of matrisomal genes via EnrichR webtool.",
    "Data represent the combined score. <i>P</i> values of Fisher’s exact tests are indicated. "
    "<b>d</b>,<b>e</b>, Matrisomal proteins classified on the basis of Uniprot entries in",
    "proregenerative and profibrotic categories. Data represent mean ± s.d. One-way ANOVA was used "
    "for multiple comparisons testing, with Tukey’s test:",
    "*<i>P</i>&#8201;&lt;&#8201;0.05. <i>n</i>&#8201;=&#8201;6 biological replicates for peritoneum and "
    "liver, <i>n</i>&#8201;=&#8201;5 biological replicates for cecum (all C57BL/6J WT mice); "
    "3 independent experiments.",
]
caption = Div(width=1440, height=205, text=(
    '<div style="font-family:%s;font-stretch:condensed;font-size:19.5px;letter-spacing:0.4px;'
    'line-height:29px;color:#1a1a1a;white-space:nowrap;">%s</div>') % (COND, "<br>".join(CAPTION_LINES)))

footer = Div(width=1440, height=30, text=(
    '<div style="position:relative;width:1440px;height:30px;font-family:%s;font-stretch:condensed;'
    'font-size:17.5px;line-height:30px;white-space:nowrap;">'
    '<span style="color:#1d6fa5;font-weight:bold;">NATURE IMMUNOLOGY</span>'
    '<span style="color:#555555;"> | VOL 23 | APRIL 2022 | 518–531 | </span>'
    '<span style="color:#3d89c4;">www.nature.com/natureimmunology</span>'
    '<span style="position:absolute;right:19px;top:0;font-weight:bold;color:#111111;">523</span>'
    '</div>') % COND)

layout = column(
    Spacer(height=51),
    row(Spacer(width=94), header),
    Spacer(height=31),
    row(Spacer(width=132), A1.p, A2.p, B.p),
    Spacer(height=15),
    row(Spacer(width=132), CO.p, FB.p, FI.p),
    Spacer(height=20),
    row(Spacer(width=132), column(C1.p, C2.p, C3.p), column(D.p, E.p)),
    Spacer(height=23),
    row(Spacer(width=111), caption),
    Spacer(height=11),
    row(Spacer(width=111), footer),
)

open("out.html", "w").write(file_html(layout, INLINE, "Fig. 3"))
